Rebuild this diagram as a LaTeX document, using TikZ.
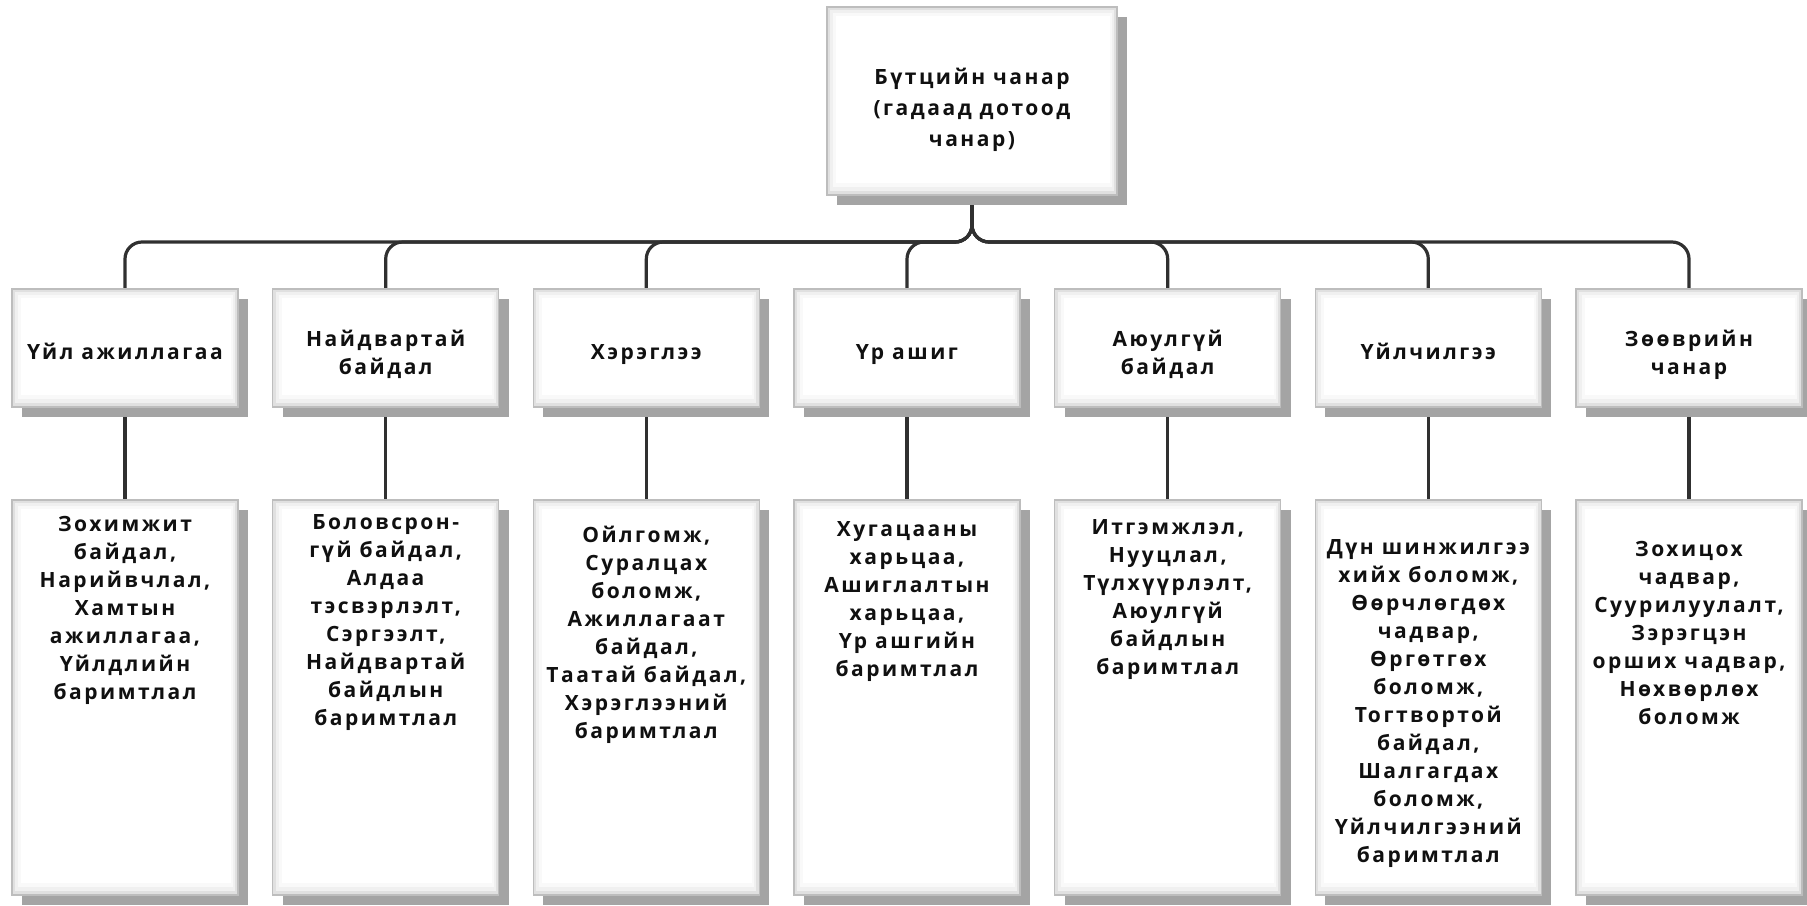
\documentclass[tikz,border=0pt]{standalone}
\usepackage{fontspec}
\setmainfont{Open Sans}[LetterSpace=12, BoldFont={Open Sans Bold}]
\usetikzlibrary{shadows,backgrounds}
\definecolor{ink}{HTML}{101010}
\definecolor{wire}{HTML}{303030}
\definecolor{rim}{HTML}{BDBDBD}
\definecolor{shade}{HTML}{A4A4A4}
\tikzset{
  card/.style={rectangle, draw=rim, line width=1.3pt, fill=white, inner sep=0pt,
    general shadow={fill=shade, shadow xshift=10pt, shadow yshift=-10pt},
    path picture={
      \fill[gray!24] (path picture bounding box.south west) rectangle (path picture bounding box.north east);
      \fill[gray!12] ([shift={(3pt,4pt)}]path picture bounding box.south west) rectangle ([shift={(-3pt,-3pt)}]path picture bounding box.north east);
      \fill[gray!5] ([shift={(6pt,8pt)}]path picture bounding box.south west) rectangle ([shift={(-5pt,-6pt)}]path picture bounding box.north east);
      \fill[white] ([shift={(9pt,12pt)}]path picture bounding box.south west) rectangle ([shift={(-7pt,-9pt)}]path picture bounding box.north east);
    }},
  headcard/.style={card, minimum width=290pt, minimum height=188pt},
  midcard/.style={card, minimum width=226pt, minimum height=118pt},
  lowcard/.style={card, minimum width=226pt, minimum height=395pt},
  lbl/.style={anchor=north, align=center, inner sep=0pt, text=ink,
    font=\bfseries\fontsize{21}{28}\selectfont},
  headlbl/.style={lbl, font=\bfseries\fontsize{21}{31}\selectfont},
  conn/.style={draw=wire, line width=3.2pt, rounded corners=17pt},
}
\begin{document}
\begin{tikzpicture}[x=1pt, y=-1pt]
\useasboundingbox (0,0) rectangle (1807,905);

% root box
\node[headcard] (root) at (972,101) {};
\node[headlbl] (rootlbl) at ([yshift=-56.3pt]root.north) {\strut Бүтцийн чанар\\(гадаад дотоод\\чанар)};

% bus level for the branches
\coordinate (bus) at (972,242);

% second row: characteristics
\node[midcard] (m1) at (125,348) {};
\node[midcard] (m2) at (385.7,348) {};
\node[midcard] (m3) at (646.3,348) {};
\node[midcard] (m4) at (907,348) {};
\node[midcard] (m5) at (1167.7,348) {};
\node[midcard] (m6) at (1428.3,348) {};
\node[midcard] (m7) at (1689,348) {};

\node[lbl] (ml1) at ([yshift=-51.4pt]m1.north) {\strut Үйл ажиллагаа};
\node[lbl] (ml2) at ([yshift=-38.4pt]m2.north) {\strut Найдвартай\\байдал};
\node[lbl] (ml3) at ([yshift=-51.4pt]m3.north) {\strut Хэрэглээ};
\node[lbl] (ml4) at ([yshift=-51.4pt]m4.north) {\strut Үр ашиг};
\node[lbl] (ml5) at ([yshift=-38.4pt]m5.north) {\strut Аюулгүй\\байдал};
\node[lbl] (ml6) at ([yshift=-51.4pt]m6.north) {\strut Үйлчилгээ};
\node[lbl] (ml7) at ([yshift=-38.4pt]m7.north) {\strut Зөөврийн\\чанар};

% third row: sub-characteristics
\node[lowcard] (b1) at (125,697.5) {};
\node[lowcard] (b2) at (385.7,697.5) {};
\node[lowcard] (b3) at (646.3,697.5) {};
\node[lowcard] (b4) at (907,697.5) {};
\node[lowcard] (b5) at (1167.7,697.5) {};
\node[lowcard] (b6) at (1428.3,697.5) {};
\node[lowcard] (b7) at (1689,697.5) {};

\node[lbl] (bl1) at ([yshift=-12.4pt]b1.north) {\strut Зохимжит\\байдал,\\Нарийвчлал,\\Хамтын\\ажиллагаа,\\Үйлдлийн\\баримтлал};
\node[lbl] (bl2) at ([yshift=-10.4pt]b2.north) {\strut Боловсрон-\\гүй байдал,\\Алдаа\\тэсвэрлэлт,\\Сэргээлт,\\Найдвартай\\байдлын\\баримтлал};
\node[lbl] (bl3) at ([yshift=-23.4pt]b3.north) {\strut Ойлгомж,\\Суралцах\\боломж,\\Ажиллагаат\\байдал,\\Таатай байдал,\\Хэрэглээний\\баримтлал};
\node[lbl] (bl4) at ([yshift=-17.4pt]b4.north) {\strut Хугацааны\\харьцаа,\\Ашиглалтын\\харьцаа,\\Үр ашгийн\\баримтлал};
\node[lbl] (bl5) at ([yshift=-15.4pt]b5.north) {\strut Итгэмжлэл,\\Нууцлал,\\Түлхүүрлэлт,\\Аюулгүй\\байдлын\\баримтлал};
\node[lbl] (bl6) at ([yshift=-35.4pt]b6.north) {\strut Дүн шинжилгээ\\хийх боломж,\\Өөрчлөгдөх\\чадвар,\\Өргөтгөх\\боломж,\\Тогтвортой\\байдал,\\Шалгагдах\\боломж,\\Үйлчилгээний\\баримтлал};
\node[lbl] (bl7) at ([yshift=-37.4pt]b7.north) {\strut Зохицох\\чадвар,\\Суурилуулалт,\\Зэрэгцэн\\орших чадвар,\\Нөхвөрлөх\\боломж};

% connectors behind the boxes
\begin{scope}[on background layer]
  \foreach \k in {1,...,7} {
    \draw[conn] (root.south) -- (bus) -- (m\k.north |- bus) -- (m\k.north);
    \draw[conn] (m\k.south) -- (b\k.north);
  }
\end{scope}
\end{tikzpicture}
\end{document}
